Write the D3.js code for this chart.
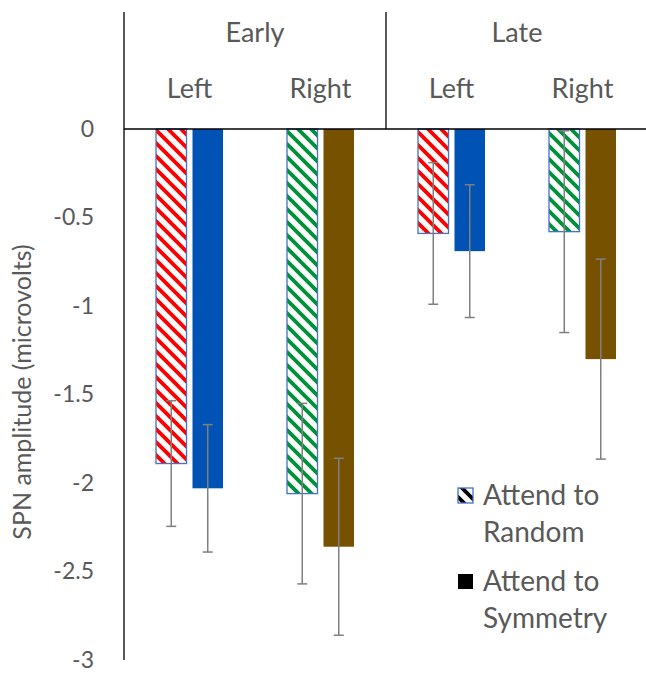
<!DOCTYPE html>
<html>
<head>
<meta charset="utf-8">
<script src="https://cdn.jsdelivr.net/npm/d3@7"></script>
<style>
  body { margin: 0; background: #fff; }
  text { font-family: Lato, "Open Sans", sans-serif; fill: #595959; }
</style>
</head>
<body>
<svg id="chart"></svg>
<script>
// data
const phases = ["Early", "Late"];
const sides = ["Left", "Right"];
const categories = ["Early Left", "Early Right", "Late Left", "Late Right"];
const conditions = ["Attend to Random", "Attend to Symmetry"];
const randomVals = [-1.89, -2.06, -0.59, -0.58];
const randomErr = [0.355, 0.51, 0.40, 0.57];
const symmetryVals = [-2.03, -2.36, -0.69, -1.30];
const symmetryErr = [0.36, 0.50, 0.375, 0.565];
const yTicks = [0, -0.5, -1, -1.5, -2, -2.5, -3];

// colours by side
const randomColor = { Left: "#ff0000", Right: "#00913a" };
const symmetryColor = { Left: "#0052b4", Right: "#765200" };

const width = 646, height = 676;
const left = 124, right = 648, zeroY = 129, bottomY = 660, headerTop = 12;

const svg = d3.select("#chart").attr("width", width).attr("height", height);
const defs = svg.append("defs");

// wide downward diagonal
function hatch(id, color) {
  const s = 13;
  const p = defs.append("pattern")
    .attr("id", id)
    .attr("patternUnits", "userSpaceOnUse")
    .attr("width", s).attr("height", s);
  p.append("rect").attr("width", s).attr("height", s).attr("fill", "#fff");
  p.append("path")
    .attr("d", `M-3,-3 L${s + 3},${s + 3} M${-s - 3},-3 L3,${s + 3} M${s - 3},-3 L${2 * s + 3},${s + 3}`)
    .attr("stroke", color)
    .attr("stroke-width", 3.8);
}
hatch("hatch-Left", randomColor.Left);
hatch("hatch-Right", randomColor.Right);
hatch("hatch-legend", "#000");

const y = d3.scaleLinear().domain([0, -3]).range([zeroY, bottomY]);
const x = d3.scaleBand().domain(categories).range([left, right]);
const x1 = d3.scaleBand().domain(conditions).range([0, x.bandwidth()])
  .paddingInner(0.164).paddingOuter(0.877);
const xPhase = d3.scaleBand().domain(phases).range([left, right]);

const rows = [];
categories.forEach((c, i) => {
  const side = c.split(" ")[1];
  rows.push({ cat: c, cond: conditions[0], v: randomVals[i], e: randomErr[i], side: side, hatched: true });
  rows.push({ cat: c, cond: conditions[1], v: symmetryVals[i], e: symmetryErr[i], side: side, hatched: false });
});

// bars
svg.append("g").selectAll("rect")
  .data(rows)
  .join("rect")
  .attr("x", d => x(d.cat) + x1(d.cond))
  .attr("y", y(0))
  .attr("width", x1.bandwidth())
  .attr("height", d => y(d.v) - y(0))
  .attr("fill", d => d.hatched ? `url(#hatch-${d.side})` : symmetryColor[d.side])
  .attr("stroke", d => d.hatched ? "#4472c4" : "none")
  .attr("stroke-width", 1.3);

// error bars
const eb = svg.append("g").attr("stroke", "#7f7f7f").attr("stroke-width", 1.5);
eb.selectAll("line.v")
  .data(rows)
  .join("line")
  .attr("class", "v")
  .attr("x1", d => x(d.cat) + x1(d.cond) + x1.bandwidth() / 2)
  .attr("x2", d => x(d.cat) + x1(d.cond) + x1.bandwidth() / 2)
  .attr("y1", d => y(d.v + d.e))
  .attr("y2", d => y(d.v - d.e));
["top", "bot"].forEach(k => {
  eb.selectAll("line." + k)
    .data(rows)
    .join("line")
    .attr("class", k)
    .attr("x1", d => x(d.cat) + x1(d.cond) + x1.bandwidth() / 2 - 5)
    .attr("x2", d => x(d.cat) + x1(d.cond) + x1.bandwidth() / 2 + 5)
    .attr("y1", d => y(k == "top" ? d.v + d.e : d.v - d.e))
    .attr("y2", d => y(k == "top" ? d.v + d.e : d.v - d.e));
});

// value axis
const yAxis = d3.axisLeft(y).tickValues(yTicks).tickSize(0).tickPadding(30)
  .tickFormat(d => d);
const yg = svg.append("g").attr("transform", `translate(${left},0)`).call(yAxis);
yg.select(".domain").remove();
yg.selectAll("text").style("font-size", "23px").attr("fill", "#595959")
  .style("font-family", "Lato, 'Open Sans', sans-serif");

svg.append("line")
  .attr("x1", left).attr("x2", left).attr("y1", headerTop).attr("y2", bottomY)
  .attr("stroke", "#000").attr("stroke-width", 1.3);

// zero line / category axis
svg.append("line")
  .attr("x1", left).attr("x2", right).attr("y1", y(0)).attr("y2", y(0))
  .attr("stroke", "#000").attr("stroke-width", 1.5);

// phase divider
svg.append("line")
  .attr("x1", xPhase("Late")).attr("x2", xPhase("Late"))
  .attr("y1", headerTop).attr("y2", y(0))
  .attr("stroke", "#000").attr("stroke-width", 1.3);

// category labels
svg.append("g").selectAll("text")
  .data(phases)
  .join("text")
  .attr("x", d => xPhase(d) + xPhase.bandwidth() / 2)
  .attr("y", 42)
  .attr("text-anchor", "middle")
  .style("font-size", "27px")
  .text(d => d);

svg.append("g").selectAll("text")
  .data(categories)
  .join("text")
  .attr("x", d => x(d) + x.bandwidth() / 2)
  .attr("y", 98)
  .attr("text-anchor", "middle")
  .style("font-size", "27px")
  .text(d => d.split(" ")[1]);

// axis title
svg.append("text")
  .attr("transform", `translate(31, 392) rotate(-90)`)
  .attr("text-anchor", "middle")
  .style("font-size", "25px")
  .text("SPN amplitude (microvolts)");

// legend
const legendItems = [
  { lines: ["Attend to", "Random"], fill: "url(#hatch-legend)", stroke: "#4472c4", y: 488 },
  { lines: ["Attend to", "Symmetry"], fill: "#000", stroke: "none", y: 574 }
];
const lg = svg.append("g").selectAll("g").data(legendItems).join("g");
lg.append("rect")
  .attr("x", 458).attr("y", d => d.y)
  .attr("width", 15).attr("height", 15)
  .attr("fill", d => d.fill).attr("stroke", d => d.stroke).attr("stroke-width", 1.3);
lg.append("text")
  .attr("x", 483)
  .attr("y", d => d.y + 17)
  .style("font-size", "28px")
  .selectAll("tspan")
  .data(d => d.lines)
  .join("tspan")
  .attr("x", 483)
  .attr("dy", (d, i) => i == 0 ? 0 : 37)
  .text(d => d);
</script>
</body>
</html>
